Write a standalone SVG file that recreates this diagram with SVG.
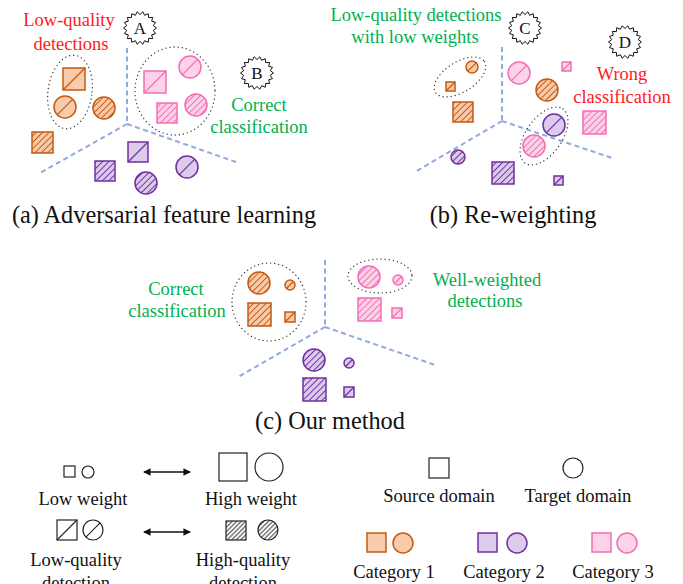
<svg xmlns="http://www.w3.org/2000/svg" width="683" height="584" viewBox="0 0 683 584">
  <style>
    text { font-family: "Liberation Serif", "Times New Roman", serif; }
    .lbl { font-size: 18.5px; text-anchor: middle; }
    .cap { font-size: 24.3px; text-anchor: middle; fill: #111; }
    .red { fill: #ff1a1a; }
    .grn { fill: #00b050; }
    .blk { fill: #111; }
    .axis { stroke: #8faadc; stroke-width: 2; stroke-dasharray: 5 3.5; fill: none; }
    .grp { fill: none; stroke: #333; stroke-width: 1.3; stroke-dasharray: 0.1 4; stroke-linecap: round; }
    .star { fill: #fff; stroke: #111; stroke-width: 1; }
    .o { fill: #f8cbad; stroke: #c55a11; stroke-width: 1.5; }
    .oh { fill: url(#hO); stroke: #c55a11; stroke-width: 1.5; }
    .ol { stroke: #c55a11; stroke-width: 1.2; }
    .p { fill: #dccbeb; stroke: #7030a0; stroke-width: 1.5; }
    .ph { fill: url(#hP); stroke: #7030a0; stroke-width: 1.5; }
    .pl { stroke: #7030a0; stroke-width: 1.2; }
    .k { fill: #fdd3e8; stroke: #f46db5; stroke-width: 1.5; }
    .kh { fill: url(#hK); stroke: #f46db5; stroke-width: 1.5; }
    .kl { stroke: #f46db5; stroke-width: 1.2; }
    .n { fill: #fff; stroke: #222; stroke-width: 1.2; }
    .nh { fill: url(#hN); stroke: #222; stroke-width: 1.2; }
    .nl { stroke: #222; stroke-width: 1.1; }
    .arr { stroke: #111; stroke-width: 1.5; marker-start: url(#tip); marker-end: url(#tip); }
  </style>
  <defs>
    <pattern id="hO" width="4.5" height="4.5" patternUnits="userSpaceOnUse" patternTransform="rotate(45)">
      <rect width="4.5" height="4.5" fill="#f8cbad"/>
      <line x1="2.25" y1="0" x2="2.25" y2="4.5" stroke="#c55a11" stroke-width="1"/>
    </pattern>
    <pattern id="hP" width="4.5" height="4.5" patternUnits="userSpaceOnUse" patternTransform="rotate(45)">
      <rect width="4.5" height="4.5" fill="#dccbeb"/>
      <line x1="2.25" y1="0" x2="2.25" y2="4.5" stroke="#7030a0" stroke-width="1"/>
    </pattern>
    <pattern id="hK" width="4.5" height="4.5" patternUnits="userSpaceOnUse" patternTransform="rotate(45)">
      <rect width="4.5" height="4.5" fill="#fdd3e8"/>
      <line x1="2.25" y1="0" x2="2.25" y2="4.5" stroke="#f46db5" stroke-width="1"/>
    </pattern>
    <pattern id="hN" width="3.2" height="3.2" patternUnits="userSpaceOnUse" patternTransform="rotate(45)">
      <rect width="3.2" height="3.2" fill="#fff"/>
      <line x1="1.6" y1="0" x2="1.6" y2="3.2" stroke="#222" stroke-width="0.9"/>
    </pattern>
    <polygon id="star" class="star" points="16.5,0 13.29,2.34 15.51,5.64 11.69,6.75 12.64,10.61 8.68,10.34 8.25,14.29 4.62,12.69 2.86,16.25 0,13.5 -2.86,16.25 -4.62,12.69 -8.25,14.29 -8.68,10.34 -12.64,10.61 -11.69,6.75 -15.51,5.64 -13.29,2.34 -16.5,0 -13.29,-2.34 -15.51,-5.64 -11.69,-6.75 -12.64,-10.61 -8.68,-10.34 -8.25,-14.29 -4.62,-12.69 -2.86,-16.25 0,-13.5 2.86,-16.25 4.62,-12.69 8.25,-14.29 8.68,-10.34 12.64,-10.61 11.69,-6.75 15.51,-5.64 13.29,-2.34"/>
    <marker id="tip" viewBox="0 0 8 8" refX="7" refY="4" markerWidth="5" markerHeight="5" orient="auto-start-reverse">
      <path d="M0,0 L8,4 L0,8 z" fill="#111"/>
    </marker>
  </defs>

  <!-- decision boundaries and legend arrows -->
  <g id="connectors">
    <path class="axis" d="M127,48 V124 M127,124 L40,173 M127,124 L236,162"/>
    <path class="axis" d="M502,47 V121 M502,121 L415,172 M502,121 L612,158"/>
    <path class="axis" d="M325,260 V327 M325,327 L238,377 M325,327 L435,365"/>
    <line class="arr" x1="144" y1="472" x2="190" y2="472"/>
    <line class="arr" x1="144" y1="532" x2="190" y2="532"/>
  </g>

  <!-- (a) adversarial feature learning -->
  <g id="panel-a">
    <g id="a-orange">
      <ellipse class="grp" cx="70" cy="92" rx="22" ry="37" transform="rotate(8 70 92)"/>
      <rect class="o" x="63" y="68" width="22" height="22"/>
      <line class="ol" x1="63" y1="90" x2="85" y2="68"/>
      <circle class="o" cx="65" cy="107" r="11"/>
      <line class="ol" x1="57.2" y1="114.8" x2="72.8" y2="99.2"/>
      <circle class="oh" cx="104" cy="108" r="11"/>
      <rect class="oh" x="32" y="132" width="21" height="21"/>
    </g>
    <g id="a-pink">
      <ellipse class="grp" cx="175" cy="91" rx="40" ry="44"/>
      <rect class="k" x="144" y="71" width="22" height="22"/>
      <line class="kl" x1="144" y1="93" x2="166" y2="71"/>
      <circle class="k" cx="190" cy="67" r="11"/>
      <line class="kl" x1="182.2" y1="74.8" x2="197.8" y2="59.2"/>
      <rect class="kh" x="157" y="103" width="20" height="20"/>
      <circle class="kh" cx="196" cy="105" r="11"/>
    </g>
    <g id="a-purple">
      <rect class="p" x="128" y="142" width="20" height="20"/>
      <line class="pl" x1="128" y1="162" x2="148" y2="142"/>
      <rect class="ph" x="95" y="161" width="20" height="20"/>
      <circle class="p" cx="187" cy="167" r="11"/>
      <line class="pl" x1="179.2" y1="174.8" x2="194.8" y2="159.2"/>
      <circle class="ph" cx="146" cy="183" r="11"/>
    </g>
    <g id="badge-a">
      <use href="#star" x="140" y="28"/>
      <text class="lbl blk" x="140" y="34" style="font-size:17px">A</text>
    </g>
    <g id="badge-b">
      <use href="#star" x="257" y="73"/>
      <text class="lbl blk" x="257" y="79" style="font-size:17px">B</text>
    </g>
    <text class="lbl red" x="69" y="26">Low-quality</text>
    <text class="lbl red" x="71" y="50">detections</text>
    <text class="lbl grn" x="259" y="111">Correct</text>
    <text class="lbl grn" x="259" y="133">classification</text>
    <text class="cap" x="164" y="223">(a) Adversarial feature learning</text>
  </g>

  <!-- (b) re-weighting -->
  <g id="panel-b">
    <g id="b-orange">
      <ellipse class="grp" cx="460" cy="77" rx="29" ry="15" transform="rotate(-32 460 77)"/>
      <circle class="o" cx="472" cy="67" r="6"/>
      <line class="ol" x1="467.8" y1="71.2" x2="476.2" y2="62.8"/>
      <rect class="o" x="446" y="82" width="9" height="9"/>
      <line class="ol" x1="446" y1="91" x2="455" y2="82"/>
      <rect class="oh" x="453" y="102" width="20" height="20"/>
      <circle class="oh" cx="547" cy="90" r="11"/>
    </g>
    <g id="b-pink">
      <circle class="k" cx="519" cy="73" r="11"/>
      <line class="kl" x1="511.2" y1="80.8" x2="526.8" y2="65.2"/>
      <rect class="k" x="562" y="62" width="9" height="9"/>
      <line class="kl" x1="562" y1="71" x2="571" y2="62"/>
      <rect class="kh" x="583" y="111" width="23" height="23"/>
    </g>
    <g id="b-mixed">
      <ellipse class="grp" cx="544" cy="136" rx="33" ry="18" transform="rotate(-55 544 136)"/>
      <circle class="p" cx="554" cy="125" r="11"/>
      <line class="pl" x1="546.2" y1="132.8" x2="561.8" y2="117.2"/>
      <circle class="kh" cx="534" cy="146" r="11"/>
    </g>
    <g id="b-purple">
      <circle class="ph" cx="458" cy="157" r="7"/>
      <rect class="ph" x="492" y="162" width="22" height="22"/>
      <rect class="p" x="554" y="176" width="9" height="9"/>
      <line class="pl" x1="554" y1="185" x2="563" y2="176"/>
    </g>
    <g id="badge-c">
      <use href="#star" x="525" y="28"/>
      <text class="lbl blk" x="525" y="34" style="font-size:17px">C</text>
    </g>
    <g id="badge-d">
      <use href="#star" x="625" y="42"/>
      <text class="lbl blk" x="625" y="48" style="font-size:17px">D</text>
    </g>
    <text class="lbl grn" x="416" y="21">Low-quality detections</text>
    <text class="lbl grn" x="415" y="43">with low weights</text>
    <text class="lbl red" x="622" y="80">Wrong</text>
    <text class="lbl red" x="622" y="103">classification</text>
    <text class="cap" x="513" y="223">(b) Re-weighting</text>
  </g>

  <!-- (c) our method -->
  <g id="panel-c">
    <g id="c-orange">
      <ellipse class="grp" cx="269" cy="302" rx="37" ry="39"/>
      <circle class="oh" cx="259" cy="283" r="11"/>
      <circle class="o" cx="290" cy="285" r="5"/>
      <line class="ol" x1="286.5" y1="288.5" x2="293.5" y2="281.5"/>
      <rect class="oh" x="248" y="303" width="23" height="23"/>
      <rect class="o" x="285" y="312" width="10" height="10"/>
      <line class="ol" x1="285" y1="322" x2="295" y2="312"/>
    </g>
    <g id="c-pink">
      <ellipse class="grp" cx="380" cy="276" rx="32" ry="17"/>
      <circle class="kh" cx="369" cy="277" r="11"/>
      <circle class="k" cx="398" cy="280" r="5"/>
      <line class="kl" x1="394.5" y1="283.5" x2="401.5" y2="276.5"/>
      <rect class="kh" x="358" y="298" width="23" height="23"/>
      <rect class="k" x="392" y="308" width="10" height="10"/>
      <line class="kl" x1="392" y1="318" x2="402" y2="308"/>
    </g>
    <g id="c-purple">
      <circle class="ph" cx="314" cy="360" r="11"/>
      <circle class="p" cx="349" cy="363" r="5"/>
      <line class="pl" x1="345.5" y1="366.5" x2="352.5" y2="359.5"/>
      <rect class="ph" x="303" y="378" width="23" height="23"/>
      <rect class="p" x="344" y="387" width="10" height="10"/>
      <line class="pl" x1="344" y1="397" x2="354" y2="387"/>
    </g>
    <text class="lbl grn" x="176" y="295">Correct</text>
    <text class="lbl grn" x="177" y="317">classification</text>
    <text class="lbl grn" x="487" y="286">Well-weighted</text>
    <text class="lbl grn" x="485" y="307">detections</text>
    <text class="cap" x="330" y="429">(c) Our method</text>
  </g>

  <!-- legend -->
  <g id="legend-weight">
    <rect class="n" x="64" y="466" width="11" height="11"/>
    <circle class="n" cx="88" cy="472" r="6"/>
    <rect class="n" x="219" y="453" width="28" height="28"/>
    <circle class="n" cx="269" cy="467" r="14"/>
    <text class="lbl blk" x="83" y="505">Low weight</text>
    <text class="lbl blk" x="251" y="505">High weight</text>
  </g>
  <g id="legend-quality">
    <rect class="n" x="57" y="520" width="20" height="20"/>
    <line class="nl" x1="57" y1="540" x2="77" y2="520"/>
    <circle class="n" cx="93" cy="530" r="10"/>
    <line class="nl" x1="85.9" y1="537.1" x2="100.1" y2="522.9"/>
    <rect class="nh" x="226" y="521" width="20" height="19"/>
    <circle class="nh" cx="268" cy="530" r="10"/>
    <text class="lbl blk" x="76" y="566">Low-quality</text>
    <text class="lbl blk" x="76" y="589">detection</text>
    <text class="lbl blk" x="243" y="566">High-quality</text>
    <text class="lbl blk" x="243" y="589">detection</text>
  </g>
  <g id="legend-domain">
    <rect class="n" x="429" y="458" width="20" height="20"/>
    <circle class="n" cx="573" cy="468" r="10"/>
    <text class="lbl blk" x="439" y="502">Source domain</text>
    <text class="lbl blk" x="578" y="502">Target domain</text>
  </g>
  <g id="legend-category">
    <rect class="o" x="367" y="533" width="19" height="19"/>
    <circle class="o" cx="403" cy="543" r="10"/>
    <text class="lbl blk" x="394" y="578">Category 1</text>
    <rect class="p" x="478" y="533" width="19" height="19"/>
    <circle class="p" cx="517" cy="543" r="10"/>
    <text class="lbl blk" x="504" y="578">Category 2</text>
    <rect class="k" x="592" y="533" width="19" height="19"/>
    <circle class="k" cx="627" cy="543" r="10"/>
    <text class="lbl blk" x="613" y="578">Category 3</text>
  </g>
</svg>
